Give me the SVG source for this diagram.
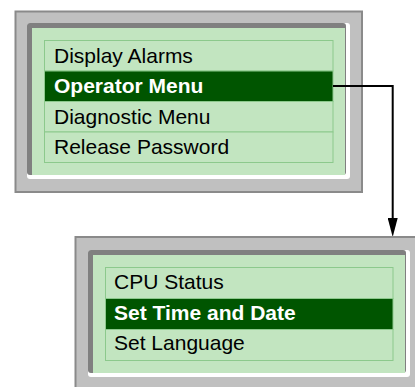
<svg xmlns="http://www.w3.org/2000/svg" width="415" height="387" viewBox="0 0 415 387">
<style>
.outer{fill:#c0c0c0;stroke:#8a8a8a;stroke-width:2}
.hl{fill:#ffffff}
.sh{fill:#808080}
.scr{fill:#c2e5c0}
.row{fill:#c2e5c0;stroke:#8cc98c;stroke-width:1}
.sel{fill:#005500;stroke:#8cc98c;stroke-width:1}
.t{font-family:"Liberation Sans",Arial,sans-serif;font-size:21px;fill:#000}
.ts{font-family:"Liberation Sans",Arial,sans-serif;font-size:21px;font-weight:bold;fill:#fff}
.conn{fill:none;stroke:#000;stroke-width:2}
</style>
<defs>
<marker id="arr" viewBox="0 0 19 10" refX="0" refY="5" markerWidth="19" markerHeight="10" markerUnits="userSpaceOnUse" orient="auto">
<path d="M0,0 L19,5 L0,10 z" fill="#000"/>
</marker>
</defs>
<g id="panel-main">
<rect class="outer" x="15.5" y="11.5" width="346.5" height="180.5"/>
<rect class="hl" x="27" y="23" width="323" height="156" rx="3"/>
<rect class="sh" x="27" y="23" width="319" height="152" rx="3"/>
<rect class="scr" x="32" y="28" width="313" height="147"/>
<g id="item-display-alarms">
<rect class="row" x="44.5" y="40.5" width="288.5" height="30.5"/>
<text class="t" x="54" y="63.3">Display Alarms</text>
</g>
<g id="item-operator-menu">
<rect class="sel" x="44.5" y="71" width="288.5" height="30.5"/>
<text class="ts" x="54" y="92.5">Operator Menu</text>
</g>
<g id="item-diagnostic-menu">
<rect class="row" x="44.5" y="101.5" width="288.5" height="30.5"/>
<text class="t" x="54" y="123.5">Diagnostic Menu</text>
</g>
<g id="item-release-password">
<rect class="row" x="44.5" y="132" width="288.5" height="30.5"/>
<text class="t" x="54" y="154">Release Password</text>
</g>
</g>
<g id="connectors">
<path class="conn" d="M333,86 H392.7 V218" marker-end="url(#arr)"/>
</g>
<g id="panel-operator">
<rect class="outer" x="75.5" y="237" width="346.5" height="180.5"/>
<rect class="hl" x="88" y="250" width="322" height="127" rx="3"/>
<rect class="sh" x="88" y="250" width="318" height="123" rx="3"/>
<rect class="scr" x="93" y="255" width="312" height="118"/>
<g id="item-cpu-status">
<rect class="row" x="105.5" y="267.5" width="287.5" height="31"/>
<text class="t" x="114" y="288.5">CPU Status</text>
</g>
<g id="item-set-time-date">
<rect class="sel" x="105.5" y="298.5" width="287.5" height="31"/>
<text class="ts" x="114" y="319.5">Set Time and Date</text>
</g>
<g id="item-set-language">
<rect class="row" x="105.5" y="329.5" width="287.5" height="31"/>
<text class="t" x="114" y="349.5">Set Language</text>
</g>
</g>
</svg>
